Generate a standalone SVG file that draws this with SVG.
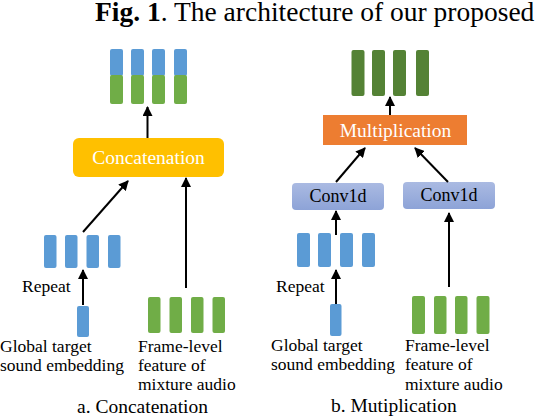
<svg xmlns="http://www.w3.org/2000/svg" width="536" height="418" viewBox="0 0 536 418">
<style>
text{font-family:"Liberation Serif","Times New Roman",serif;fill:#000}
.lbl{font-size:17.5px}
.cap{font-size:19.5px}
.box{font-size:19.5px;fill:#fff;text-anchor:middle}
.cv{font-size:18px;text-anchor:middle}
.blue{fill:#5B9BD5}
.green{fill:#70AD47}
.dgreen{fill:#548235}
.edge{stroke:#000;stroke-width:2;fill:none;marker-end:url(#ah)}
</style>
<defs>
<marker id="ah" viewBox="0 0 10 10" refX="9" refY="5" markerWidth="5" markerHeight="5" orient="auto" markerUnits="strokeWidth">
<path d="M0,0 L10,5 L0,10 z" fill="#000"/>
</marker>
<linearGradient id="cg" x1="0" y1="0" x2="0" y2="1">
<stop offset="0" stop-color="#AABAE2"/>
<stop offset="1" stop-color="#8DA3D7"/>
</linearGradient>
</defs>
<text x="95" y="20.5" font-size="27.5"><tspan font-weight="bold">Fig. 1</tspan>. The architecture of our proposed</text>

<g id="concat-output">
<rect class="blue" x="110" y="49" width="13" height="27" rx="2"/>
<rect class="blue" x="131" y="49" width="13" height="27" rx="2"/>
<rect class="blue" x="152" y="49" width="13" height="27" rx="2"/>
<rect class="blue" x="174" y="49" width="13" height="27" rx="2"/>
<rect class="green" x="110" y="75" width="13" height="29" rx="2"/>
<rect class="green" x="131" y="75" width="13" height="29" rx="2"/>
<rect class="green" x="152" y="75" width="13" height="29" rx="2"/>
<rect class="green" x="174" y="75" width="13" height="29" rx="2"/>
</g>
<g id="concatenation">
<rect x="73" y="138" width="151" height="39" rx="6" fill="#FFC000"/>
<text class="box" x="148.5" y="164">Concatenation</text>
</g>
<g id="repeat-a">
<rect class="blue" x="44" y="235" width="12.5" height="33" rx="2"/>
<rect class="blue" x="65" y="235" width="12.5" height="33" rx="2"/>
<rect class="blue" x="86.5" y="235" width="12.5" height="33" rx="2"/>
<rect class="blue" x="108" y="235" width="12.5" height="33" rx="2"/>
<text class="lbl" x="22" y="292">Repeat</text>
</g>
<g id="embed-a">
<rect class="blue" x="77" y="306" width="12" height="31" rx="2"/>
<text class="lbl" x="0" y="352">Global target</text>
<text class="lbl" x="0" y="371">sound embedding</text>
</g>
<g id="frame-a">
<rect class="green" x="148" y="297" width="12.5" height="36" rx="2"/>
<rect class="green" x="169.5" y="297" width="12.5" height="36" rx="2"/>
<rect class="green" x="191" y="297" width="12.5" height="36" rx="2"/>
<rect class="green" x="212.5" y="297" width="12.5" height="36" rx="2"/>
<text class="lbl" x="138" y="352">Frame-level</text>
<text class="lbl" x="138" y="371">feature of</text>
<text class="lbl" x="138" y="390">mixture audio</text>
</g>
<text class="cap" x="77" y="413">a. Concatenation</text>

<g id="mult-output">
<rect class="dgreen" x="351.5" y="50" width="13" height="46" rx="2"/>
<rect class="dgreen" x="372" y="50" width="13" height="46" rx="2"/>
<rect class="dgreen" x="393" y="50" width="13" height="46" rx="2"/>
<rect class="dgreen" x="416" y="50" width="13" height="46" rx="2"/>
</g>
<g id="multiplication">
<rect x="323" y="115" width="144" height="30" fill="#ED7D31"/>
<text class="box" x="395.5" y="137">Multiplication</text>
</g>
<g id="conv1d-left">
<rect x="292" y="183" width="92" height="27" rx="4" fill="url(#cg)"/>
<text class="cv" x="338" y="202">Conv1d</text>
</g>
<g id="conv1d-right">
<rect x="403" y="182" width="92" height="27" rx="4" fill="url(#cg)"/>
<text class="cv" x="449" y="201">Conv1d</text>
</g>
<g id="repeat-b">
<rect class="blue" x="297" y="233" width="13" height="34" rx="2"/>
<rect class="blue" x="318" y="233" width="13" height="34" rx="2"/>
<rect class="blue" x="340" y="233" width="13" height="34" rx="2"/>
<rect class="blue" x="362" y="233" width="13" height="34" rx="2"/>
<text class="lbl" x="276" y="292">Repeat</text>
</g>
<g id="embed-b">
<rect class="blue" x="330" y="304" width="11.5" height="32" rx="2"/>
<text class="lbl" x="271" y="351">Global target</text>
<text class="lbl" x="271" y="370">sound embedding</text>
</g>
<g id="frame-b">
<rect class="green" x="412" y="296" width="13" height="38" rx="2"/>
<rect class="green" x="434" y="296" width="12.5" height="38" rx="2"/>
<rect class="green" x="455" y="296" width="12.5" height="38" rx="2"/>
<rect class="green" x="476.5" y="296" width="13" height="38" rx="2"/>
<text class="lbl" x="405" y="351">Frame-level</text>
<text class="lbl" x="405" y="370">feature of</text>
<text class="lbl" x="405" y="390">mixture audio</text>
</g>
<text class="cap" x="331" y="412">b. Mutiplication</text>

<g id="connectors">
<line class="edge" x1="147.5" y1="138" x2="147.5" y2="107"/>
<line class="edge" x1="83" y1="232" x2="128" y2="181"/>
<line class="edge" x1="186" y1="288" x2="186" y2="178"/>
<line class="edge" x1="83" y1="305" x2="83" y2="270"/>
<line class="edge" x1="390" y1="115" x2="390" y2="97"/>
<line class="edge" x1="336" y1="182" x2="365" y2="148"/>
<line class="edge" x1="448" y1="182" x2="415" y2="148"/>
<line class="edge" x1="336" y1="235" x2="336" y2="211"/>
<line class="edge" x1="449" y1="287" x2="449" y2="213"/>
<line class="edge" x1="336" y1="304" x2="336" y2="270"/>
</g>
</svg>
